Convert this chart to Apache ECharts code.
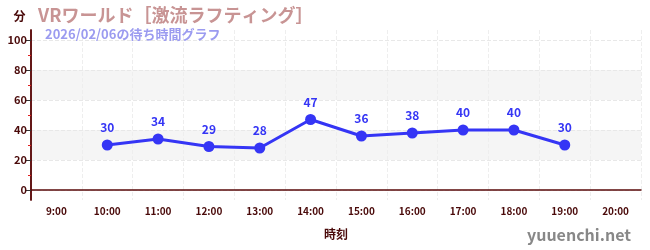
<!DOCTYPE html>
<html><head><meta charset="utf-8">
<script src="https://cdn.jsdelivr.net/npm/echarts@6/dist/echarts.min.js"></script>
<style>html,body{margin:0;padding:0;background:#fff}#c{width:650px;height:250px}</style>
</head><body><div id="c"></div>
<script>
const titleText = 'VRワールド［激流ラフティング］';
const subText = '2026/02/06の待ち時間グラフ';
const categories = ['9:00','10:00','11:00','12:00','13:00','14:00','15:00','16:00','17:00','18:00','19:00','20:00'];
const waitTimes = [null,30,34,29,28,47,36,38,40,40,30,null];
const yTicks = [0,20,40,60,80,100];
const yMinorTicks = [10,30,50,70,90];
const yMin = -20/3, yMax = 100 + 20/3;

const chart = echarts.init(document.getElementById('c'));
const font = '"Noto Sans CJK JP","Noto Sans",sans-serif';
chart.setOption({
  animation:false,
  textStyle:{fontFamily:font},
  title:[
    {text:titleText,left:33,top:1,textStyle:{color:'#c89494',fontSize:18,fontWeight:'bold',fontFamily:font}},
    {text:subText,left:40,top:23,textStyle:{color:'#9b9bf0',fontSize:13,fontWeight:'bold',fontFamily:font}},
    {text:'yuuenchi.net',right:14,top:222,textStyle:{color:'#888',fontSize:16,fontWeight:'bold',fontFamily:font}}
  ],
  grid:{left:31,right:9,top:30,bottom:50},
  xAxis:{type:'category',data:categories,boundaryGap:true,
    name:'時刻',nameLocation:'middle',nameGap:28,
    nameTextStyle:{color:'#4a0a0a',fontSize:12,fontWeight:'bold'},
    axisLine:{lineStyle:{color:'#5a0a0a',width:1.5}},
    axisTick:{alignWithLabel:true,lineStyle:{color:'#555'},length:4},
    axisLabel:{color:'#4a0a0a',fontSize:10,fontWeight:'bold',margin:6},
    splitLine:{show:true,lineStyle:{color:'#eee',type:'dashed'}}
  },
  yAxis:[{type:'value',min:yMin,max:yMax,
    name:'分',nameLocation:'end',nameGap:8,
    nameTextStyle:{color:'#4a0a0a',fontSize:12,fontWeight:'bold',align:'center',padding:[0,23,0,0]},
    axisLine:{show:true,lineStyle:{color:'#5a0a0a',width:1.5}},
    axisTick:{show:true,customValues:yTicks,length:5,lineStyle:{color:'#333'}},
    axisLabel:{customValues:yTicks,color:'#4a0a0a',fontSize:11,fontWeight:'bold',margin:4},
    splitLine:{show:true,lineStyle:{color:'#e8e8e8',type:'dashed'}},
    splitArea:{show:true,areaStyle:{color:['rgba(0,0,0,0)','#f5f5f5']}}
  },{type:'value',min:yMin,max:yMax,position:'left',
    axisLine:{show:true,lineStyle:{color:'#5a0a0a',width:1.5}},
    axisTick:{show:true,customValues:yMinorTicks,length:3,lineStyle:{color:'#e02020',width:1}},
    axisLabel:{show:true,customValues:yMinorTicks,formatter:function(){return '';}},
    splitLine:{show:false},splitArea:{show:false}
  }],
  series:[{type:'line',data:waitTimes,connectNulls:false,
    symbol:'circle',symbolSize:11,
    lineStyle:{color:'#3535f5',width:3},
    itemStyle:{color:'#3535f5'},
    label:{show:true,position:'top',color:'#3535f5',fontSize:12,fontWeight:'bold',distance:6}
  }]
});
</script></body></html>
